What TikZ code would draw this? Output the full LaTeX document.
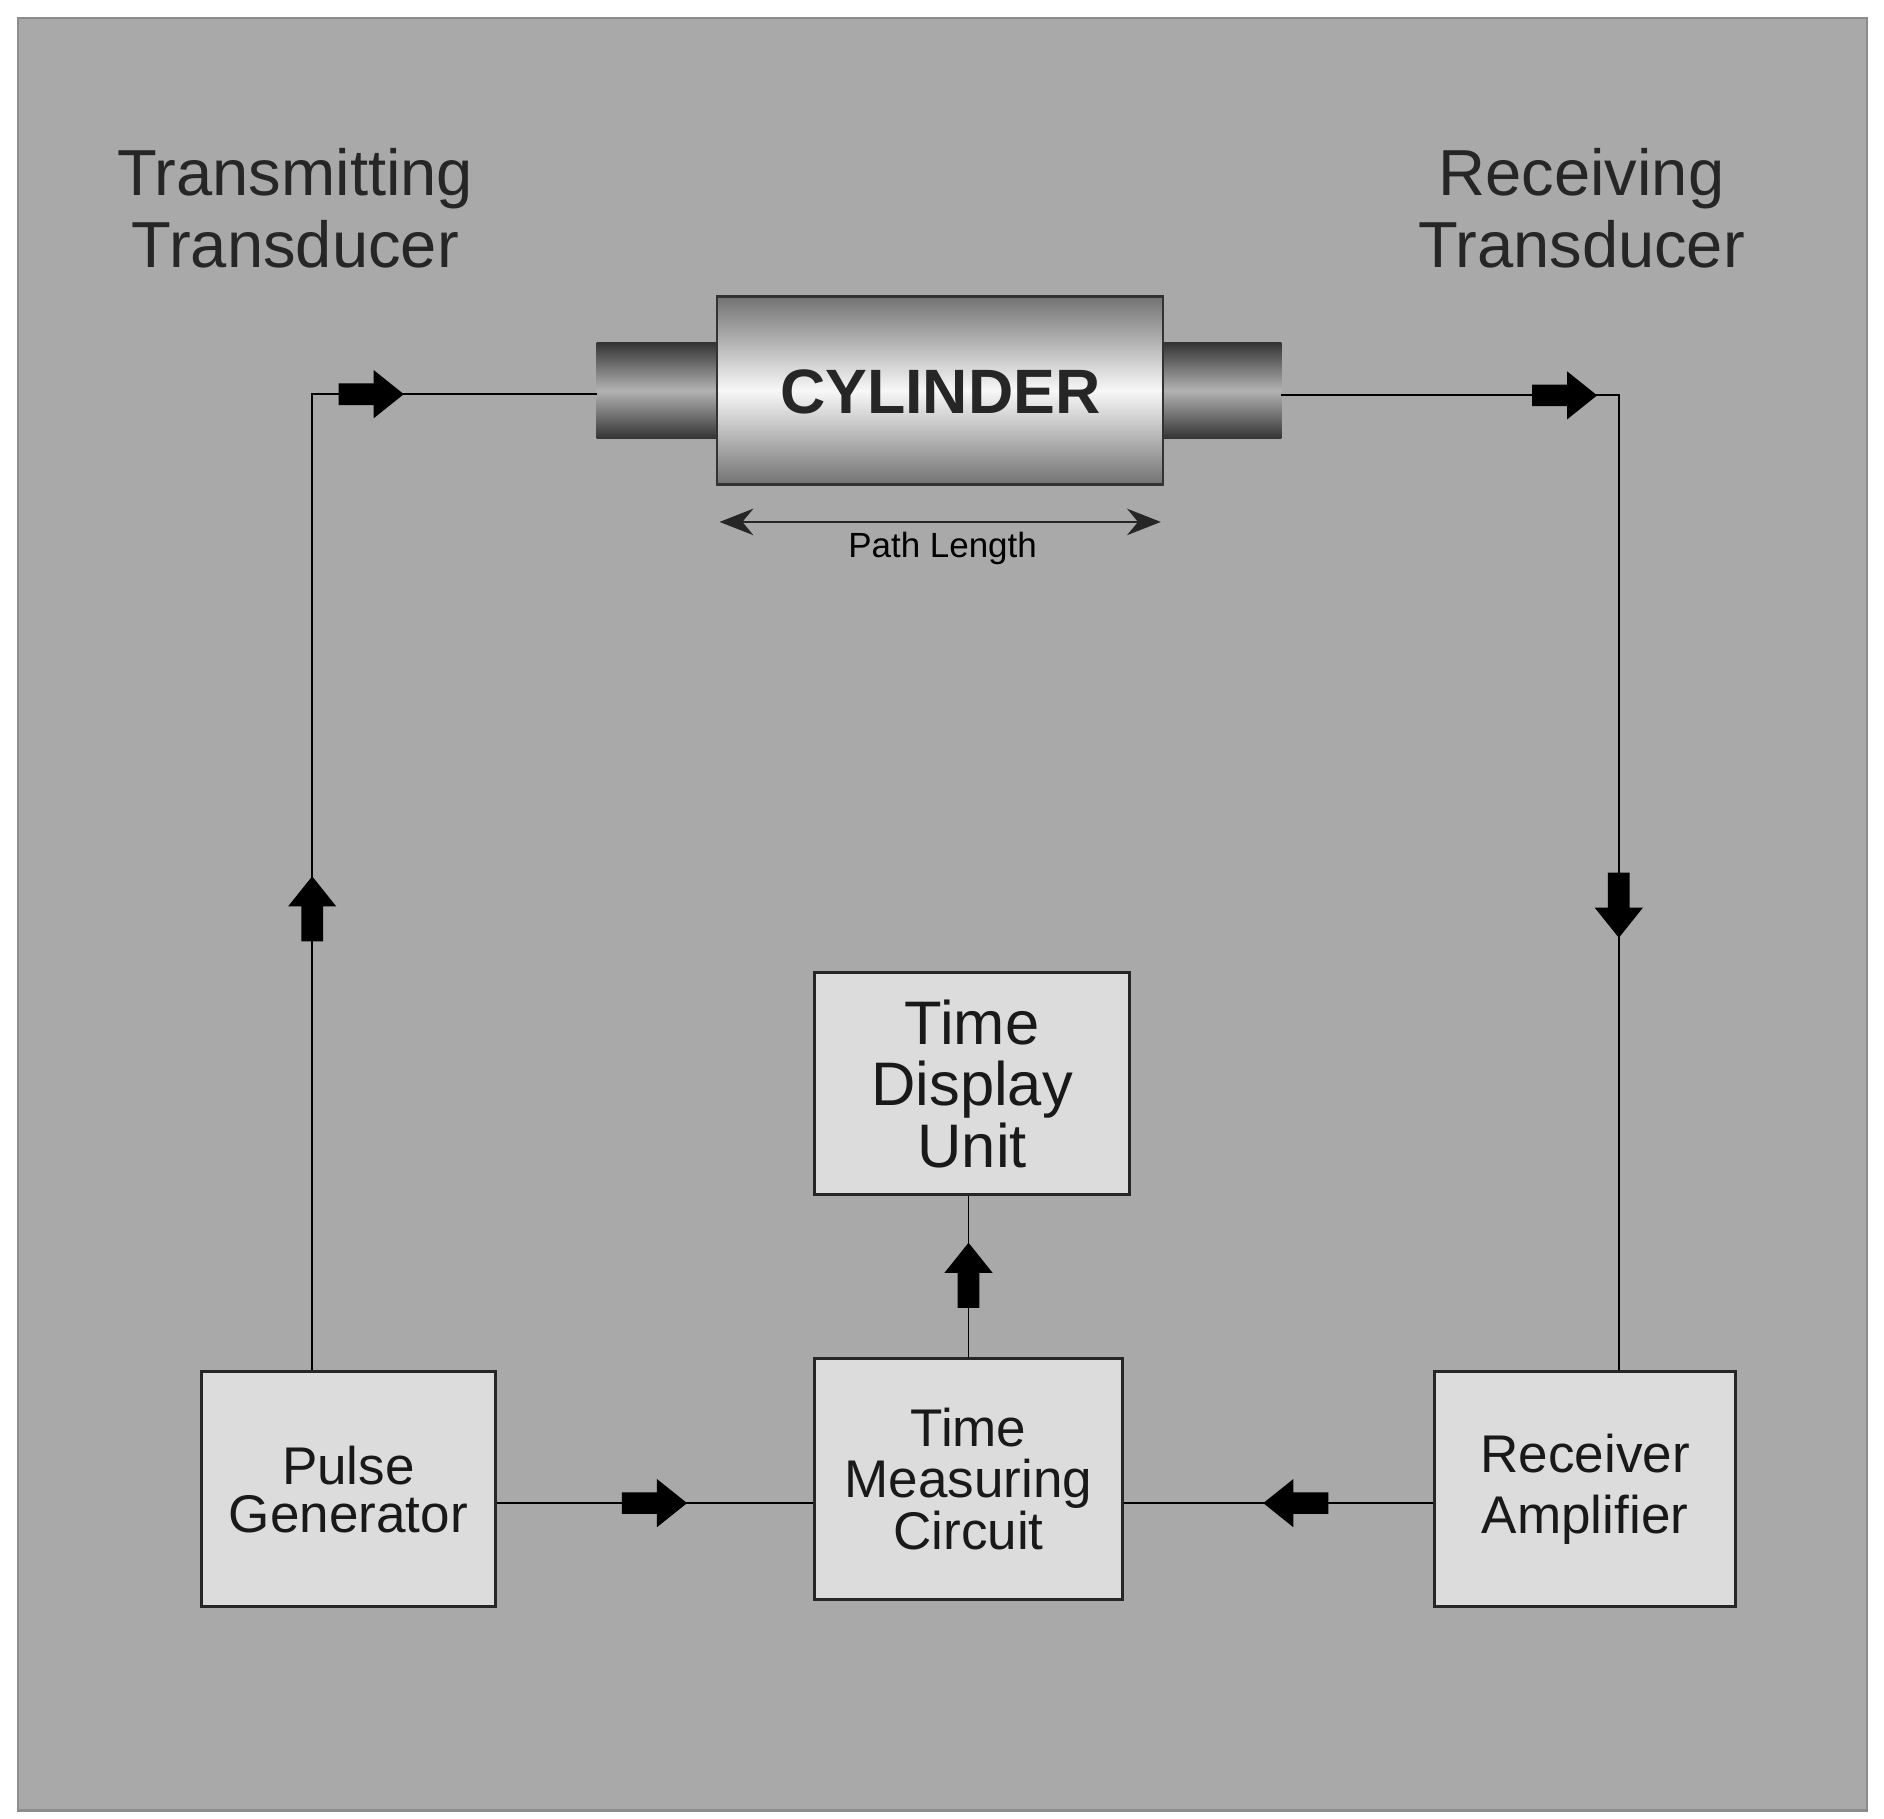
\documentclass[tikz,border=0pt]{standalone}
\usepackage{fontspec}
\setmainfont{Liberation Sans}
\usetikzlibrary{arrows.meta}
\definecolor{bg}{HTML}{A9A9A9}
\definecolor{boxf}{HTML}{DCDCDC}
\begin{document}
\begin{tikzpicture}[x=1pt,y=-1pt,
  blk/.style={draw=black!85,line width=2.5pt,fill=boxf,align=center,inner sep=0pt,text=black!90},
  wire/.style={line width=1.6pt,black},
  blockarrow/.pic={\fill[black] (-27,-9)--(2,-9)--(2,-20)--(27,0)--(2,20)--(2,9)--(-27,9)--cycle;},
  ttl/.style={font=\fontsize{54}{60}\selectfont,align=center,text=black!85}]
\useasboundingbox (0,0) rectangle (1563,1509);
\fill[white] (0,0) rectangle (1563,1509);
\draw[fill=bg,draw=black!45,line width=2pt] (15,15) rectangle (1549,1502);
% cylinder
\shade[top color=black!80,bottom color=black!80,middle color=black!30] (495,284) rectangle (595,364);
\shade[top color=black!80,bottom color=black!80,middle color=black!30] (965,284) rectangle (1063,364);
\shade[draw=black!80,line width=2pt,top color=black!55,bottom color=black!55,middle color=black!3] (595,246) rectangle (965,402);
\node[font=\fontsize{52}{52}\selectfont\bfseries,text=black!85] (cyl) at (780,325) {CYLINDER};
\coordinate (cl) at (495,327);
\coordinate (cr) at (1063,328);
\coordinate (pl1) at (597,433);
\coordinate (pl2) at (963,433);
\draw[line width=1.2pt,black!85,{Stealth[length=28pt,width=22pt]}-{Stealth[length=28pt,width=22pt]}] (pl1) -- (pl2);
\node[font=\fontsize{29}{30}\selectfont] (pl) at (782,455) {Path Length};
\node[ttl] (tt) at (245,173) {Transmitting\\Transducer};
\node[ttl] (rt) at (1312,173) {Receiving\\Transducer};
% boxes
\node[blk,minimum width=244pt,minimum height=195pt,font=\fontsize{44}{40}\selectfont] (pg) at (289,1235.5) {Pulse\\Generator};
\node[blk,minimum width=255pt,minimum height=200pt,font=\fontsize{44}{43}\selectfont] (tmc) at (803.5,1227) {Time\\Measuring\\Circuit};
\node[blk,minimum width=250pt,minimum height=195pt,font=\fontsize{44}{50}\selectfont] (ra) at (1315,1235.5) {Receiver\\Amplifier};
\node[blk,minimum width=261pt,minimum height=184pt,font=\fontsize{51}{51}\selectfont] (tdu) at (806.5,899) {Time\\Display\\Unit};
% wires
\coordinate (tl) at (259,327);
\coordinate (tr) at (1343,328);
\draw[wire] (cl) -- (tl) -- (pg.north -| tl);
\draw[wire] (cr) -- (tr) -- (ra.north -| tr);
\draw[wire] (pg.east |- 0,1247) -- (tmc.west |- 0,1247);
\draw[wire] (ra.west |- 0,1247) -- (tmc.east |- 0,1247);
\draw[wire] (tmc.north) -- (tmc.north |- tdu.south);
% block arrows
\pic at (308,327) {blockarrow};
\pic at (1298,328) {blockarrow};
\pic[rotate=90] at (259,754) {blockarrow};
\pic[rotate=-90] at (1343,751) {blockarrow};
\pic at (543,1247) {blockarrow};
\pic[rotate=180] at (1075,1247) {blockarrow};
\pic[rotate=90] at (803.5,1058) {blockarrow};
\end{tikzpicture}
\end{document}
